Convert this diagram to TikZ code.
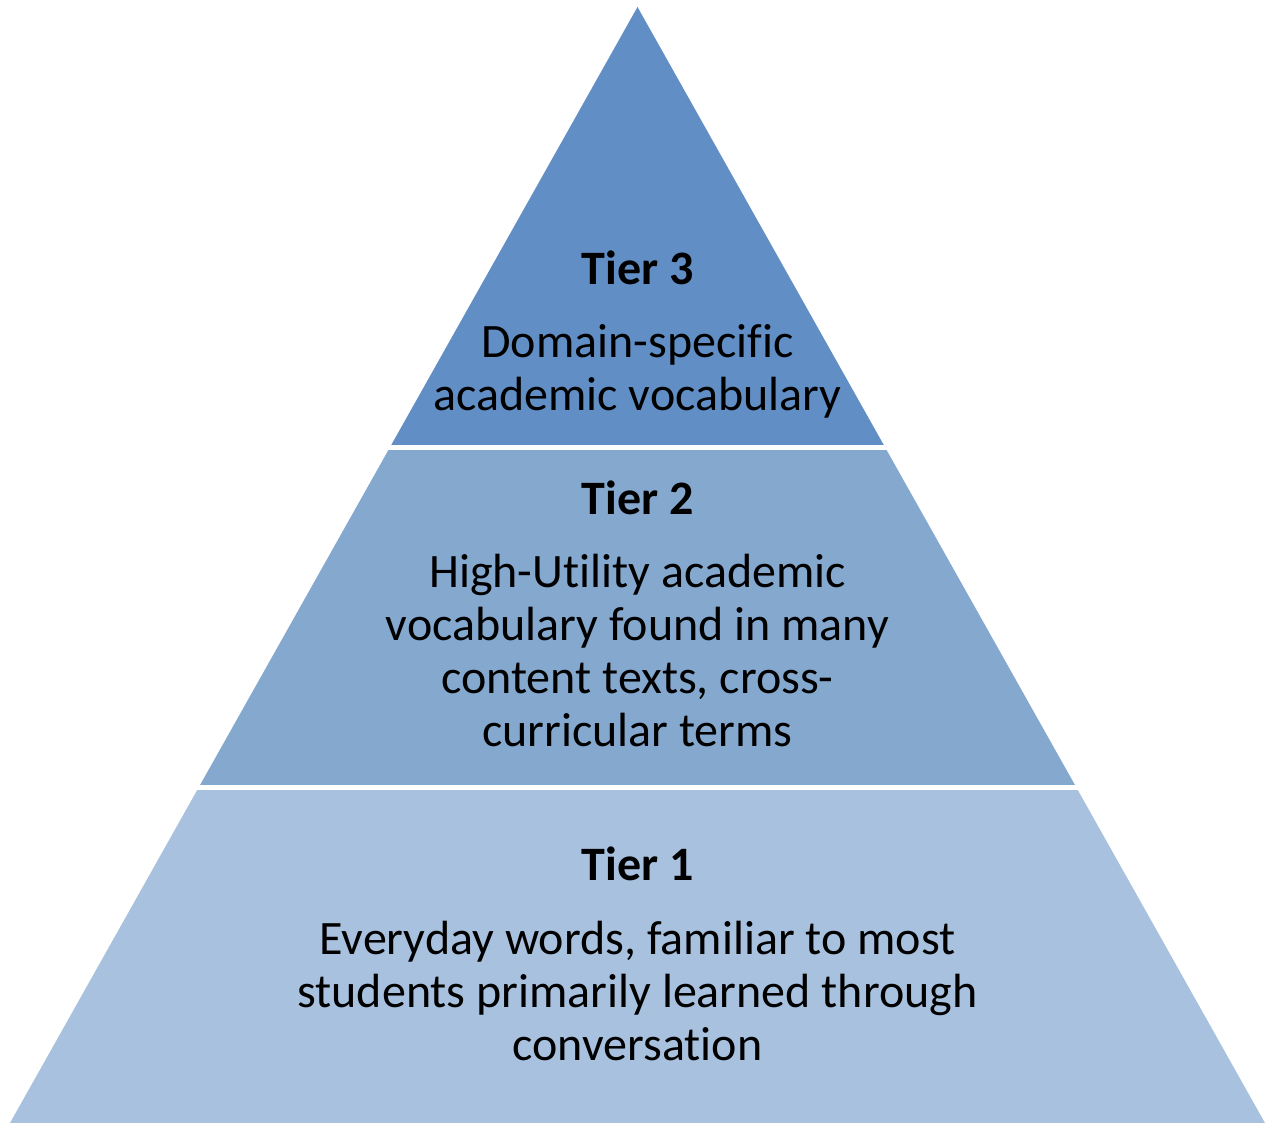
\documentclass[tikz,border=0pt]{standalone}
\usepackage{fontspec}
\setmainfont[Ligatures=NoCommon]{Carlito}
\definecolor{tierthree}{RGB}{96,142,197}
\definecolor{tiertwo}{RGB}{133,168,207}
\definecolor{tierone}{RGB}{168,193,222}
\begin{document}
\begin{tikzpicture}[x=1pt,y=-1pt,
  title/.style={anchor=base,font=\fontsize{48}{53}\selectfont\bfseries,inner sep=0pt},
  body/.style={anchor=base,align=center,font=\fontsize{48}{53}\selectfont,inner sep=0pt}]
\useasboundingbox (0,0) rectangle (1268,1123);
\begin{scope}
  \clip (637.5,7) -- (1265,1123) -- (10,1123) -- cycle;
  \fill[tierthree] (0,0) rectangle (1268,444.5);
  \fill[tiertwo] (0,449.5) rectangle (1268,784.5);
  \fill[tierone] (0,789.5) rectangle (1268,1123);
\end{scope}
\node[title] (t3) at (637.5,284) {Tier 3};
\node[body] (b3) at (637.5,410) {Domain-specific\\academic vocabulary};
\node[title] (t2) at (637.5,514) {Tier 2};
\node[body] (b2) at (637.5,746) {High-Utility academic\\vocabulary found in many\\content texts, cross-\\curricular terms};
\node[title] (t1) at (637.5,880) {Tier 1};
\node[body] (b1) at (637.5,1060) {Everyday words, familiar to most\\students primarily learned through\\conversation};
\end{tikzpicture}
\end{document}
